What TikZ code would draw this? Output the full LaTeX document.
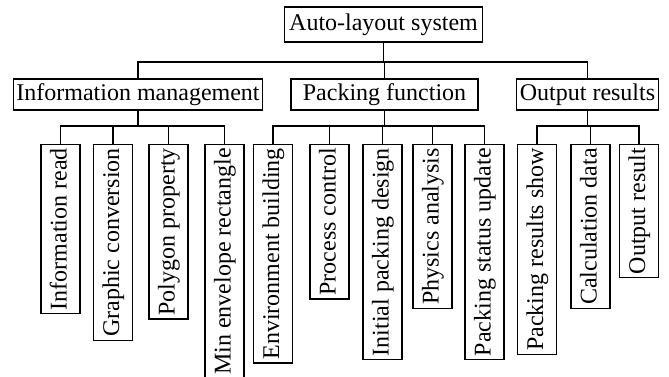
\documentclass[tikz,border=0pt]{standalone}
\usepackage{fontspec}
\setmainfont{Liberation Serif}
\usepackage{tikz}

\begin{document}
\begin{tikzpicture}[x=1pt, y=-1pt, font=\fontsize{24}{28}\selectfont]
%% one unit is one point, y runs downwards
%% box sizes are fixed by hand, the leaves are rotated and hang from the bus line
\tikzstyle{box}=[draw, line width=1.3pt, inner xsep=3pt, inner ysep=0pt, text height=17pt, text depth=5pt]
\tikzstyle{leaf}=[box, rotate=90, anchor=east, minimum height=39pt, inner xsep=3.5pt]
\tikzstyle{link}=[line width=1.3pt]
\useasboundingbox (0,0) rectangle (669,376);
%% bus lines %%
\coordinate (TopBus) at (0,62);
\coordinate (LeafBus) at (0,126);
%% top level %%
\node[box, minimum width=198pt, minimum height=35pt] at (383.5,24.5) (AutoLayout) {Auto-layout system};
%% second level %%
\node[box, minimum width=248pt, minimum height=31pt] at (138,94.5) (InfoMgmt) {Information management};
\node[box, minimum width=187pt, minimum height=31pt] at (384.5,94.5) (Packing) {Packing function};
\node[box, minimum width=141pt, minimum height=31pt] at (587.5,94.5) (Output) {Output results};
%% leaves of Information management
\node[leaf] at (60.5,144) (InfoRead) {Information read};
\node[leaf] at (113,144) (GraphicConv) {Graphic conversion};
\node[leaf] at (168.5,144) (PolyProp) {Polygon property};
\node[leaf] at (224.5,144) (MinEnvelope) {Min envelope rectangle};
%% leaves of Packing function
\node[leaf] at (273,144) (EnvBuild) {Environment building};
\node[leaf] at (329.5,144) (ProcCtrl) {Process control};
\node[leaf] at (382.5,144) (InitPacking) {Initial packing design};
\node[leaf] at (432.5,144) (Physics) {Physics analysis};
\node[leaf] at (484.5,144) (StatusUpdate) {Packing status update};
%% leaves of Output results
\node[leaf] at (537,144) (ResultsShow) {Packing results show};
\node[leaf] at (590.5,144) (CalcData) {Calculation data};
\node[leaf] at (639,144) (OutResult) {Output result};
%% connectors from the top box
\draw[link] (AutoLayout.south) -- (AutoLayout.south |- TopBus) -| (InfoMgmt.north);
\draw[link] (AutoLayout.south) -- (AutoLayout.south |- TopBus) -| (Packing.north);
\draw[link] (AutoLayout.south) -- (AutoLayout.south |- TopBus) -| (Output.north);
%% connectors for Information management
\draw[link] (InfoMgmt.south) -- (InfoMgmt.south |- LeafBus) -| (InfoRead.east);
\draw[link] (InfoMgmt.south) -- (InfoMgmt.south |- LeafBus) -| (GraphicConv.east);
\draw[link] (InfoMgmt.south) -- (InfoMgmt.south |- LeafBus) -| (PolyProp.east);
\draw[link] (InfoMgmt.south) -- (InfoMgmt.south |- LeafBus) -| (MinEnvelope.east);
%% connectors for Packing function
\draw[link] (Packing.south) -- (Packing.south |- LeafBus) -| (EnvBuild.east);
\draw[link] (Packing.south) -- (Packing.south |- LeafBus) -| (ProcCtrl.east);
\draw[link] (Packing.south) -- (Packing.south |- LeafBus) -| (InitPacking.east);
\draw[link] (Packing.south) -- (Packing.south |- LeafBus) -| (Physics.east);
\draw[link] (Packing.south) -- (Packing.south |- LeafBus) -| (StatusUpdate.east);
%% connectors for Output results
\draw[link] (Output.south) -- (Output.south |- LeafBus) -| (ResultsShow.east);
\draw[link] (Output.south) -- (Output.south |- LeafBus) -| (CalcData.east);
\draw[link] (Output.south) -- (Output.south |- LeafBus) -| (OutResult.east);
\end{tikzpicture}
\end{document}
